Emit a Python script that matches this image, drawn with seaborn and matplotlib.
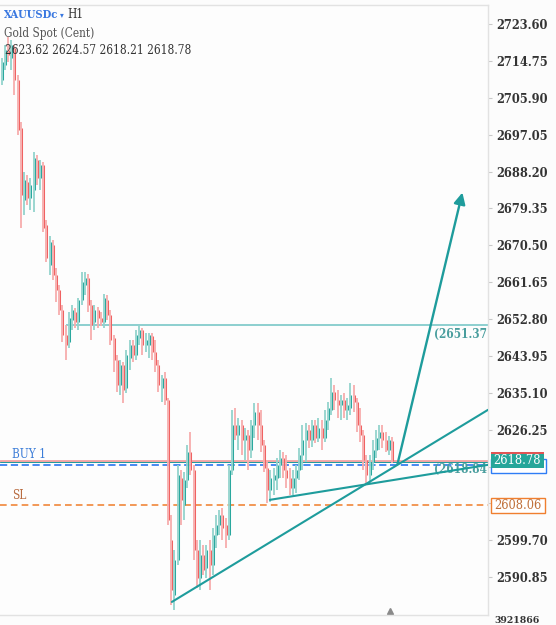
import numpy as np
import pandas as pd
import seaborn as sns
import matplotlib.pyplot as plt
from matplotlib.patches import Rectangle
from matplotlib.transforms import blended_transform_factory

sns.set_style("white")
plt.rcParams['font.family'] = ['DejaVu Serif', 'DejaVu Sans']
plt.rcParams['font.stretch'] = 'condensed'

# hourly XAUUSDc bars
bar_open = [2710.2, 2713.8, 2717.4, 2715.4, 2717.8, 2710.2, 2698.6, 2681.4, 2685.7, 2681.9,
            2683.8, 2691.0, 2686.6, 2689.8, 2675.4, 2665.8, 2670.6, 2663.4, 2659.8, 2654.9,
            2649.0, 2647.3, 2652.6, 2654.5, 2652.1, 2657.4, 2661.0, 2662.6, 2656.2, 2652.1,
            2654.9, 2653.0, 2652.1, 2657.4, 2653.8, 2648.2, 2643.0, 2637.0, 2641.8, 2636.2,
            2643.4, 2646.6, 2644.2, 2648.2, 2650.2, 2646.6, 2646.6, 2648.7, 2644.9, 2641.8,
            2636.2, 2638.6, 2633.4, 2599.8, 2586.6, 2595.0, 2614.6, 2608.2, 2614.2, 2620.9,
            2616.6, 2597.4, 2590.6, 2596.2, 2593.0, 2597.4, 2593.8, 2601.0, 2603.4, 2605.8,
            2603.4, 2601.0, 2616.6, 2627.4, 2625.0, 2627.4, 2623.8, 2625.0, 2621.4, 2627.4,
            2630.5, 2627.4, 2622.6, 2617.0, 2611.8, 2614.2, 2614.6, 2617.8, 2619.4, 2616.6,
            2614.6, 2612.2, 2614.6, 2616.6, 2620.2, 2623.8, 2626.2, 2623.8, 2627.4, 2624.2,
            2626.6, 2624.2, 2628.6, 2631.0, 2635.3, 2633.4, 2632.2, 2633.4, 2631.0, 2631.4,
            2634.6, 2632.9, 2627.4, 2625.0, 2619.0, 2615.4, 2618.5, 2621.4, 2624.2, 2625.7,
            2623.8, 2621.4, 2623.62]
bar_high = [2715.4, 2718.6, 2720.5, 2719.8, 2718.6, 2711.4, 2700.1, 2688.1, 2687.4, 2686.6,
            2692.9, 2692.2, 2691.0, 2690.5, 2676.6, 2672.7, 2671.8, 2665.0, 2661.0, 2656.2,
            2651.4, 2654.5, 2656.2, 2655.4, 2657.9, 2664.1, 2664.1, 2663.6, 2657.4, 2656.2,
            2655.7, 2654.5, 2658.8, 2658.6, 2654.9, 2649.0, 2644.2, 2643.0, 2642.5, 2645.4,
            2647.8, 2647.8, 2650.2, 2651.4, 2650.6, 2649.4, 2649.4, 2649.4, 2647.8, 2643.0,
            2639.4, 2640.1, 2633.9, 2605.8, 2597.4, 2617.8, 2616.6, 2616.1, 2622.6, 2625.7,
            2617.8, 2599.8, 2599.8, 2598.6, 2598.6, 2599.8, 2602.6, 2605.8, 2607.0, 2607.4,
            2605.0, 2617.8, 2631.0, 2631.4, 2629.0, 2628.6, 2626.6, 2626.2, 2628.6, 2632.6,
            2632.6, 2631.0, 2623.8, 2619.0, 2616.6, 2617.0, 2619.4, 2621.4, 2620.9, 2620.2,
            2617.0, 2616.6, 2617.8, 2621.8, 2627.4, 2627.8, 2627.4, 2628.6, 2628.6, 2629.0,
            2628.6, 2631.0, 2632.9, 2638.6, 2637.0, 2635.8, 2634.6, 2635.1, 2633.9, 2637.4,
            2637.0, 2633.9, 2631.4, 2626.2, 2620.2, 2620.2, 2623.8, 2626.2, 2627.4, 2627.4,
            2625.7, 2624.7, 2624.57]
bar_low = [2709.0, 2712.6, 2714.5, 2712.6, 2706.6, 2697.0, 2674.6, 2677.8, 2680.2, 2679.0,
           2678.5, 2685.0, 2683.8, 2673.7, 2666.5, 2663.4, 2662.2, 2656.9, 2653.8, 2647.3,
           2643.0, 2645.8, 2650.2, 2650.6, 2650.2, 2656.2, 2658.6, 2654.5, 2647.8, 2650.2,
           2650.6, 2651.1, 2650.6, 2652.6, 2646.6, 2640.1, 2635.3, 2634.6, 2632.6, 2635.1,
           2640.6, 2642.5, 2643.0, 2646.6, 2644.2, 2644.9, 2643.4, 2643.0, 2640.1, 2635.3,
           2632.9, 2632.2, 2603.4, 2584.2, 2583.0, 2593.8, 2603.4, 2604.6, 2612.2, 2615.4,
           2595.0, 2588.2, 2587.8, 2591.4, 2590.6, 2587.8, 2591.4, 2597.8, 2601.0, 2599.8,
           2597.8, 2599.8, 2615.4, 2623.8, 2621.4, 2620.2, 2619.0, 2616.6, 2619.4, 2624.2,
           2623.8, 2620.9, 2616.1, 2608.6, 2608.9, 2610.6, 2611.8, 2614.6, 2614.6, 2612.2,
           2610.6, 2610.6, 2611.0, 2614.2, 2616.6, 2618.5, 2621.8, 2622.1, 2623.0, 2623.3,
           2621.4, 2623.3, 2626.2, 2629.8, 2631.0, 2629.0, 2628.6, 2629.0, 2628.6, 2629.8,
           2630.5, 2625.7, 2623.3, 2616.6, 2613.0, 2613.4, 2616.6, 2619.4, 2621.4, 2621.8,
           2620.9, 2620.2, 2618.21]
bar_close = [2714.5, 2717.4, 2716.2, 2718.6, 2710.2, 2698.2, 2682.6, 2686.2, 2681.9, 2685.0,
             2691.4, 2686.6, 2689.8, 2674.6, 2667.5, 2671.3, 2663.4, 2659.8, 2654.9, 2649.0,
             2646.6, 2653.0, 2654.9, 2652.1, 2657.4, 2661.7, 2662.6, 2656.2, 2651.4, 2654.9,
             2653.0, 2652.1, 2657.9, 2653.8, 2647.8, 2643.0, 2637.0, 2641.8, 2635.8, 2644.2,
             2646.6, 2644.2, 2649.0, 2650.2, 2646.6, 2647.8, 2649.0, 2644.9, 2641.8, 2637.0,
             2638.6, 2633.4, 2604.6, 2587.8, 2595.0, 2615.4, 2609.4, 2614.2, 2620.9, 2616.6,
             2597.4, 2590.6, 2596.2, 2592.6, 2597.4, 2593.8, 2601.0, 2603.4, 2605.8, 2602.6,
             2601.0, 2616.6, 2627.4, 2625.0, 2627.4, 2623.8, 2625.0, 2621.4, 2627.4, 2630.5,
             2627.4, 2622.6, 2617.0, 2611.8, 2614.6, 2615.4, 2617.8, 2619.4, 2616.6, 2614.6,
             2612.2, 2614.6, 2616.6, 2620.2, 2623.8, 2626.2, 2623.8, 2627.4, 2624.2, 2626.6,
             2624.2, 2628.6, 2631.4, 2635.3, 2633.4, 2632.2, 2633.4, 2631.0, 2632.2, 2634.6,
             2632.9, 2627.4, 2625.0, 2619.0, 2615.4, 2618.5, 2621.4, 2624.2, 2625.7, 2623.8,
             2621.4, 2623.8, 2618.78]

price_ticks = [2590.85, 2599.70, 2608.55, 2617.40, 2626.25, 2635.10, 2643.95, 2652.80,
               2661.65, 2670.50, 2679.35, 2688.20, 2697.05, 2705.90, 2714.75, 2723.60]
hidden_ticks = [2608.55, 2617.40]   # covered by the price boxes

target_level = 2651.37
last_price = 2618.78
buy_price = 2617.78
sl_price = 2608.06

# drawn trendlines: (bar index, price) endpoints
trend_x = [[53.1, 151.9], [83.75, 151.9]]
trend_y = [[2584.9, 2631.0], [2609.4, 2617.8]]
arrow_from = (123.4, 2617.3)
arrow_to = (144.1, 2683.8)

teal = '#1e9c9c'
up_dark, up_light = '#2aa89e', '#93d3cd'
dn_dark, dn_light = '#f06262', '#f7adad'

df = pd.DataFrame({'open': bar_open, 'high': bar_high, 'low': bar_low, 'close': bar_close})
df['idx'] = np.arange(len(df))
df['up'] = df['close'] >= df['open']

fig = plt.figure(figsize=(5.56, 6.25), dpi=100, facecolor='#fcfcfc')
ax = fig.add_axes([0, 0.016, 0.8777, 0.976], facecolor='#fdfdfd')

for up, sub in df.groupby('up'):
    light = up_light if up else dn_light
    dark = up_dark if up else dn_dark
    ax.vlines(sub['idx'] - 0.12, sub['low'], sub['high'], color=light, lw=1.3, zorder=2)
    ax.vlines(sub['idx'] + 0.2, sub[['open', 'close']].min(axis=1),
              sub[['open', 'close']].max(axis=1), color=dark, lw=0.75, zorder=3)

xmax = 151.9
ax.set_xlim(-0.625, xmax)
ax.set_ylim(2581.76, 2728.16)

# horizontal levels
ax.hlines(target_level, 20, xmax, color='#8ccfcf', lw=1.4, zorder=1)
ax.axhline(last_price + 0.05, color='#f2a3a3', lw=2.0, zorder=1)
ax.axhline(last_price - 0.2, color=teal, lw=0.7, zorder=1)
ax.axhline(buy_price, color='#3a7ff0', lw=1.3, dashes=(4, 2), zorder=1)
ax.axhline(sl_price, color='#f0873a', lw=1.2, dashes=(4, 2.5), zorder=1)

for xs, ys in zip(trend_x, trend_y):
    ax.plot(xs, ys, color=teal, lw=1.5, zorder=4)
ax.annotate("", xy=arrow_to, xytext=arrow_from,
            arrowprops=dict(arrowstyle='-|>', color=teal, lw=1.7, mutation_scale=17), zorder=4)

# level captions
ax.text(3.2, buy_price + 0.9, "BUY 1", color='#3b7dd8', fontsize=8.5, va='bottom')
ax.text(3.2, sl_price + 0.9, "SL", color='#b86a3e', fontsize=8.5, va='bottom')
ax.text(xmax - 0.2, target_level - 0.6, "(2651.37", color='#4a9e9e', fontsize=8.5,
        ha='right', va='top', fontweight='bold')
ax.text(xmax - 0.2, last_price - 0.6, "(2618.84", color='#4a9e9e', fontsize=8.5,
        ha='right', va='top', fontweight='bold')

# price axis on the right
ax.yaxis.tick_right()
ax.set_yticks(price_ticks)
ax.set_yticklabels(["" if t in hidden_ticks else f"{t:.2f}" for t in price_ticks])
ax.tick_params(axis='y', length=3, color='#c8c8c8', pad=3, labelsize=9.2, labelcolor='#333333')
for lab in ax.get_yticklabels():
    lab.set_fontweight('bold')
ax.set_xticks([])
ax.spines['left'].set_visible(False)
for side in ['right', 'top', 'bottom']:
    ax.spines[side].set_color('#e2e2e2')
    ax.spines[side].set_linewidth(1.0)

# price tags on the axis
trans = blended_transform_factory(ax.transAxes, ax.transData)
tag_x, tag_w, tag_h = 1.006, 0.108, 3.4
ax.add_patch(Rectangle((tag_x, buy_price - tag_h / 2 - 0.2), 0.113, tag_h, transform=trans,
                       fc='white', ec='#2f7df6', lw=1, clip_on=False, zorder=5))
ax.add_patch(Rectangle((tag_x, last_price - tag_h / 2 + 0.45), tag_w, tag_h, transform=trans,
                       fc='#e05555', ec='none', clip_on=False, zorder=6))
ax.add_patch(Rectangle((tag_x, last_price - tag_h / 2), tag_w, tag_h, transform=trans,
                       fc='#26a69a', ec='none', clip_on=False, zorder=6))
ax.text(tag_x + tag_w / 2, last_price, "2618.78", transform=trans, va='center', ha='center',
        fontsize=9.2, color='white', clip_on=False, zorder=7)
ax.add_patch(Rectangle((tag_x, sl_price - tag_h / 2), 0.11, tag_h, transform=trans,
                       fc='white', ec='#f07f2f', lw=1, clip_on=False, zorder=6))
ax.text(tag_x + 0.055, sl_price, "2608.06", transform=trans, va='center', ha='center',
        fontsize=9.2, color='#c0703a', clip_on=False, zorder=7)

ax.plot(0.8, 0.006, marker='^', color='#8a8a8a', ms=5, transform=ax.transAxes, clip_on=False)

# header
y_top = 1 - 15 / 625
sym = fig.text(4 / 556, y_top, "XAUUSDc", color='#3a78e0', fontsize=8, fontweight='bold',
               va='center')
fig.canvas.draw()
x_end = sym.get_window_extent().x1 / fig.bbox.width
fig.text(x_end + 2 / 556, y_top, "▾", color='#3a78e0', fontsize=6, va='center',
         family='DejaVu Sans')
fig.text(x_end + 9 / 556, y_top, "H1", color='#333333', fontsize=8.5, va='center')
fig.text(4 / 556, 1 - 33 / 625, "Gold Spot (Cent)", color='#555555', fontsize=8.5, va='center')
fig.text(5 / 556, 1 - 51 / 625,
         f"{bar_open[-1]:.2f} {bar_high[-1]:.2f} {bar_low[-1]:.2f} {bar_close[-1]:.2f}",
         color='#333333', fontsize=8.5, va='center')
fig.text(494 / 556, 0.0, "3921866", color='#333333', fontsize=7.5,
         fontweight='bold', va='bottom')

fig.savefig("out.png", dpi=100, facecolor=fig.get_facecolor())
